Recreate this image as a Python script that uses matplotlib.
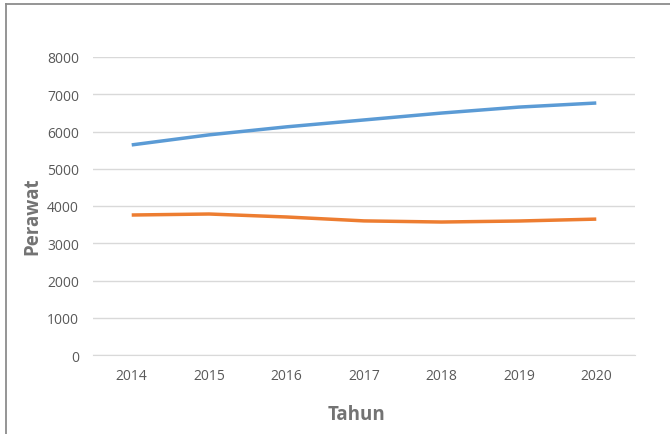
import matplotlib
matplotlib.use("Agg")
import matplotlib.pyplot as plt
from matplotlib.lines import Line2D

years = ["2014", "2015", "2016", "2017", "2018", "2019", "2020"]
series_blue = [5640, 5910, 6125, 6310, 6495, 6655, 6765]
series_orange = [3758, 3785, 3705, 3600, 3570, 3597, 3648]
yticks = [0, 1000, 2000, 3000, 4000, 5000, 6000, 7000, 8000]

plt.rcParams['font.family'] = ['Open Sans', 'DejaVu Sans']

fig = plt.figure(figsize=(6.7, 4.35), dpi=100)
ax = fig.add_axes([93/670, 1-356/435, (635-93)/670, (356-58)/435])

x = list(range(len(years)))
ax.plot(x, series_blue, color='#5B9BD5', lw=2.5, solid_capstyle='butt')
ax.plot(x, series_orange, color='#ED7D31', lw=2.5, solid_capstyle='butt')

ax.set_xlim(-0.5, len(years) - 0.5)
ax.set_ylim(0, 8000)
ax.set_yticks(yticks)
ax.set_yticklabels([str(v) for v in yticks])
ax.set_xticks(x)
ax.set_xticklabels(years)
ax.grid(axis='y', color='#D9D9D9', lw=1)
ax.set_axisbelow(True)
for s in ['top', 'right', 'left']:
    ax.spines[s].set_visible(False)
ax.spines['bottom'].set_color('#D9D9D9')
ax.tick_params(axis='both', length=0, labelsize=10, colors='#595959')
ax.tick_params(axis='y', pad=10)
ax.tick_params(axis='x', pad=9)

ax.set_xlabel('Tahun', fontsize=13.5, fontweight='bold', color='#737373')
ax.set_ylabel('Perawat', fontsize=13.5, fontweight='bold', color='#737373')
ax.xaxis.set_label_coords(0.487, -0.164)
ax.yaxis.set_label_coords(-0.094, 0.47)

fig.add_artist(Line2D([6/670, 1], [1-4.5/435, 1-4.5/435], color='#8C8C8C', lw=1.3, transform=fig.transFigure))
fig.add_artist(Line2D([6/670, 6/670], [0, 1-4.5/435], color='#8C8C8C', lw=1.3, transform=fig.transFigure))

fig.savefig('out.png', dpi=100, facecolor='white')
